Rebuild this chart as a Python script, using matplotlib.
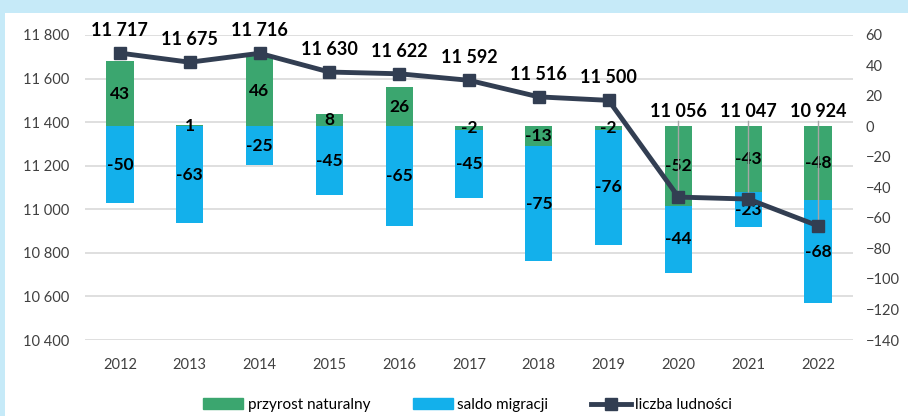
import matplotlib.pyplot as plt
from matplotlib.patches import Rectangle
from matplotlib.lines import Line2D
from matplotlib.patches import Patch

years = ["2012", "2013", "2014", "2015", "2016", "2017", "2018", "2019", "2020", "2021", "2022"]
przyrost = [43, 1, 46, 8, 26, -2, -13, -2, -52, -43, -48]
saldo = [-50, -63, -25, -45, -65, -45, -75, -76, -44, -23, -68]
ludnosc = [11717, 11675, 11716, 11630, 11622, 11592, 11516, 11500, 11056, 11047, 10924]
leader_years = ["2020", "2021", "2022"]

GREEN = "#3ba66f"
BLUE = "#13b0eb"
NAVY = "#323e52"
GRID = "#d9d9d9"
TICK = "#404040"
FONT = "Lato"
LEADER_Y = 11450


def fmt(v):
    return f"{v:,}".replace(",", " ")


fig = plt.figure(figsize=(9.08, 4.16), dpi=100)
fig.patch.set_facecolor("#c6eaf8")
fig.add_artist(Rectangle((5 / 908, 0), 1, 1 - 13 / 416, transform=fig.transFigure,
                         facecolor="white", edgecolor="none", zorder=0))

ax_pop = fig.add_axes([85 / 908, 1 - 340 / 416, 768 / 908, 305 / 416])
ax_bar = ax_pop.twinx()
ax_line = ax_pop.twinx()
x = list(range(len(years)))

# gridlines from population axis, behind bars
ax_pop.set_ylim(10400, 11800)
ax_pop.set_yticks(range(10400, 11801, 200))
ax_pop.set_yticklabels([fmt(t) for t in range(10400, 11801, 200)])
ax_pop.grid(axis="y", color=GRID, linewidth=1.2)
ax_pop.set_axisbelow(True)
ax_pop.patch.set_visible(False)
ax_pop.set_xlim(-0.5, len(years) - 0.5)
ax_pop.set_xticks(x)
ax_pop.set_xticklabels(years)

# stacked bars (right axis)
blue_bottom = [n if (n < 0) == (m < 0) else 0 for n, m in zip(przyrost, saldo)]
ax_bar.bar(x, przyrost, width=0.39, color=GREEN, zorder=2)
ax_bar.bar(x, saldo, width=0.39, bottom=blue_bottom, color=BLUE, zorder=2)
for i, (n, m, b) in enumerate(zip(przyrost, saldo, blue_bottom)):
    ax_bar.text(i, n / 2, str(n), ha="center", va="center", fontsize=12.5,
                fontweight="bold", family=FONT, color="black", zorder=3)
    ax_bar.text(i, b + m / 2, str(m), ha="center", va="center", fontsize=12.5,
                fontweight="bold", family=FONT, color="black", zorder=3)
ax_bar.set_ylim(-140, 60)
ax_bar.set_yticks(range(-140, 61, 20))

# population line on top
ax_line.set_ylim(10400, 11800)
ax_line.set_axis_off()
for i, (yr, v) in enumerate(zip(years, ludnosc)):
    if yr in leader_years:
        ax_line.plot([i, i], [LEADER_Y - 45, v], color="#a6a6a6", lw=1, zorder=1)
        ax_line.text(i, LEADER_Y, fmt(v), ha="center", va="center", fontsize=13,
                     fontweight="bold", family=FONT, color="black", clip_on=False)
    else:
        ax_line.annotate(fmt(v), (i, v), xytext=(0, 10), textcoords="offset points",
                         ha="center", va="bottom", fontsize=13, fontweight="bold",
                         family=FONT, color="black", annotation_clip=False)
ax_line.plot(x, ludnosc, color=NAVY, lw=3.5, marker="s", markersize=9, zorder=3,
             clip_on=False)

for a in (ax_pop, ax_bar, ax_line):
    for s in a.spines.values():
        s.set_visible(False)
for a in (ax_pop, ax_bar):
    a.tick_params(length=0, labelsize=10.5, labelcolor=TICK)
    for lbl in a.get_yticklabels() + a.get_xticklabels():
        lbl.set_family(FONT)
ax_pop.tick_params(axis="x", pad=13)
ax_pop.tick_params(axis="y", pad=11)
ax_bar.tick_params(axis="y", pad=9)

handles = [Patch(color=GREEN, label="przyrost naturalny"),
           Patch(color=BLUE, label="saldo migracji"),
           Line2D([], [], color=NAVY, lw=3.5, marker="s", markersize=9, label="liczba ludności")]
fig.legend(handles=handles, loc="center", bbox_to_anchor=(0.515, 1 - 405 / 416), ncol=3,
           frameon=False, prop={"family": FONT, "size": 11}, handlelength=2.6,
           handletextpad=0.3, columnspacing=2.8)

fig.savefig("out.png", dpi=100)
